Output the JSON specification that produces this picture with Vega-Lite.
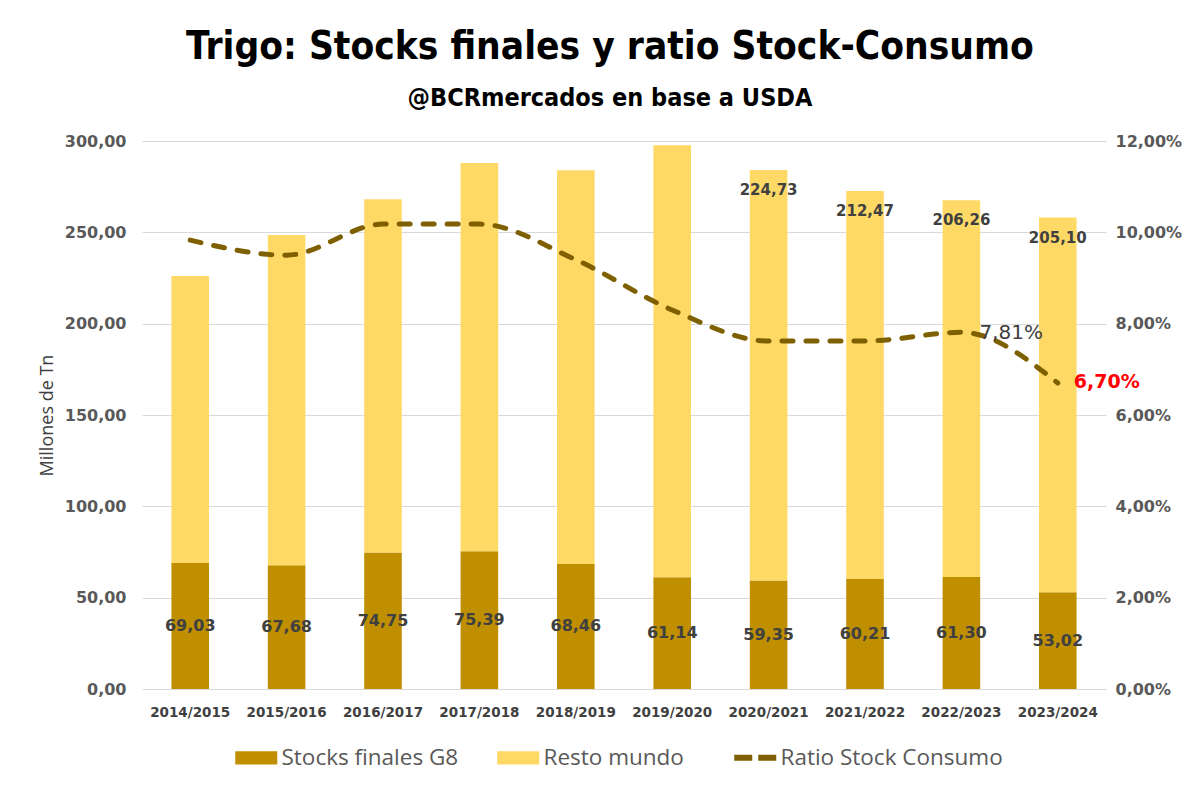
{
  "$schema": "https://vega.github.io/schema/vega-lite/v6.json",
  "width": 964,
  "height": 548,
  "padding": {"left": 38, "top": 27, "right": 5, "bottom": 5},
  "background": "white",
  "title": {
    "text": "Trigo: Stocks finales y ratio Stock-Consumo",
    "subtitle": "@BCRmercados en base a USDA",
    "anchor": "middle",
    "frame": "bounds",
    "font": "DejaVu Sans Condensed, Roboto",
    "fontSize": 38.5,
    "fontWeight": "bold",
    "color": "#000000",
    "subtitleFont": "DejaVu Sans Condensed, Roboto",
    "subtitleFontSize": 25,
    "subtitleFontWeight": "bold",
    "subtitleColor": "#000000",
    "subtitlePadding": 19,
    "offset": 21
  },
  "data": {
    "values": [
      {"season": "2014/2015", "g8": 69.03, "resto": 157.0, "ratio": 0.0983},
      {"season": "2015/2016", "g8": 67.68, "resto": 180.8, "ratio": 0.095},
      {"season": "2016/2017", "g8": 74.75, "resto": 193.4, "ratio": 0.1018},
      {"season": "2017/2018", "g8": 75.39, "resto": 212.5, "ratio": 0.1018},
      {"season": "2018/2019", "g8": 68.46, "resto": 215.5, "ratio": 0.094},
      {"season": "2019/2020", "g8": 61.14, "resto": 236.6, "ratio": 0.083},
      {"season": "2020/2021", "g8": 59.35, "resto": 224.73, "ratio": 0.0762},
      {"season": "2021/2022", "g8": 60.21, "resto": 212.47, "ratio": 0.0762},
      {"season": "2022/2023", "g8": 61.3, "resto": 206.26, "ratio": 0.0781},
      {"season": "2023/2024", "g8": 53.02, "resto": 205.1, "ratio": 0.067}
    ]
  },
  "encoding": {
    "x": {
      "field": "season",
      "type": "nominal",
      "scale": {"paddingInner": 0.61, "paddingOuter": 0.305},
      "axis": {
        "title": null,
        "labelAngle": 0,
        "ticks": false,
        "domain": false,
        "labelFont": "DejaVu Sans",
        "labelFontWeight": "bold",
        "labelFontSize": 13.5,
        "labelColor": "#404040",
        "labelPadding": 16
      }
    }
  },
  "layer": [
    {
      "transform": [{"fold": ["g8", "resto"], "as": ["key", "value"]}],
      "encoding": {
        "y": {
          "field": "value",
          "type": "quantitative",
          "stack": "zero",
          "scale": {"domain": [0, 300]},
          "axis": {
            "orient": "left",
            "title": "Millones de Tn",
            "values": [0, 50, 100, 150, 200, 250, 300],
            "format": ".2f",
            "ticks": false,
            "domain": false,
            "grid": true,
            "gridColor": "#D9D9D9",
            "gridWidth": 1,
            "labelFont": "DejaVu Sans",
            "labelFontWeight": "bold",
            "labelFontSize": 16,
            "labelColor": "#595959",
            "labelPadding": 16,
            "titleFont": "Open Sans",
            "titleFontSize": 18,
            "titleFontWeight": "normal",
            "titleColor": "#404040",
            "titlePadding": 8
          }
        },
        "order": {"field": "key", "sort": "ascending"}
      },
      "layer": [
        {
          "mark": {"type": "bar"},
          "encoding": {
            "color": {
              "field": "key",
              "type": "nominal",
              "scale": {"domain": ["g8", "resto", "ratio"], "range": ["#BF8F00", "#FFD966", "#7F6000"]},
              "legend": {
                "title": null,
                "orient": "bottom",
                "direction": "horizontal",
                "labelExpr": "datum.value == 'g8' ? 'Stocks finales G8' : datum.value == 'resto' ? 'Resto mundo' : 'Ratio Stock Consumo'",
                "labelFont": "Open Sans",
                "labelFontSize": 22.5,
                "labelColor": "#595959",
                "labelLimit": 300,
                "symbolSize": 1764,
                "columnPadding": 38,
                "labelOffset": 14,
                "offset": 27,
                "encode": {
                  "symbols": {
                    "update": {
                      "shape": {"signal": "datum.value == 'ratio' ? 'stroke' : 'M-1,-0.31H1V0.31H-1Z'"},
                      "fill": {"signal": "datum.value == 'g8' ? '#BF8F00' : datum.value == 'resto' ? '#FFD966' : 'transparent'"},
                      "stroke": {"signal": "datum.value == 'ratio' ? '#7F6000' : 'transparent'"},
                      "strokeWidth": {"signal": "datum.value == 'ratio' ? 6 : 0"},
                      "strokeDash": {"signal": "datum.value == 'ratio' ? [18, 6] : [1, 0]"},
                      "opacity": {"value": 1}
                    }
                  }
                }
              }
            }
          }
        },
        {
          "mark": {"type": "text", "dy": 20, "baseline": "middle", "font": "DejaVu Sans", "fontWeight": "bold", "fontSize": 15, "color": "#404040"},
          "encoding": {
            "detail": {"field": "key", "type": "nominal"},
            "text": {
              "condition": {
                "test": "datum.key == 'resto' && indexof(['2020/2021','2021/2022','2022/2023','2023/2024'], datum.season) >= 0",
                "field": "value",
                "type": "quantitative",
                "format": ".2f"
              },
              "value": ""
            }
          }
        }
      ]
    },
    {
      "mark": {"type": "text", "baseline": "middle", "font": "DejaVu Sans", "fontWeight": "bold", "fontSize": 16, "color": "#404040"},
      "encoding": {
        "y": {"field": "g8", "type": "quantitative", "scale": {"domain": [0, 600], "nice": false}, "axis": null},
        "text": {"field": "g8", "type": "quantitative", "format": ".2f"}
      }
    },
    {
      "encoding": {
        "y": {
          "field": "ratio",
          "type": "quantitative",
          "scale": {"domain": [0, 0.12], "nice": false},
          "axis": {
            "orient": "right",
            "title": null,
            "values": [0, 0.02, 0.04, 0.06, 0.08, 0.1, 0.12],
            "format": ".2%",
            "grid": false,
            "ticks": false,
            "domain": false,
            "labelFont": "DejaVu Sans",
            "labelFontWeight": "bold",
            "labelFontSize": 16,
            "labelColor": "#595959",
            "labelPadding": 9
          }
        }
      },
      "layer": [
        {
          "mark": {"type": "line", "interpolate": "monotone", "strokeWidth": 5, "strokeDash": [11, 13], "strokeCap": "round"},
          "encoding": {"color": {"datum": "ratio", "type": "nominal"}}
        },
        {
          "transform": [{"filter": "datum.season == '2022/2023'"}],
          "mark": {"type": "text", "align": "left", "baseline": "middle", "dx": 18, "dy": 1, "font": "DejaVu Sans", "fontSize": 20, "color": "#404040"},
          "encoding": {"text": {"field": "ratio", "type": "quantitative", "format": ".2%"}}
        },
        {
          "transform": [{"filter": "datum.season == '2023/2024'"}],
          "mark": {"type": "text", "align": "left", "baseline": "middle", "dx": 16, "dy": -1, "font": "DejaVu Sans", "fontWeight": "bold", "fontSize": 19, "color": "#FF0000"},
          "encoding": {"text": {"field": "ratio", "type": "quantitative", "format": ".2%"}}
        }
      ]
    }
  ],
  "resolve": {"scale": {"y": "independent"}},
  "config": {
    "view": {"stroke": null},
    "legend": {"layout": {"bottom": {"anchor": "middle"}}},
    "locale": {"number": {"decimal": ",", "thousands": ".", "grouping": [3], "currency": ["$", ""]}}
  }
}
